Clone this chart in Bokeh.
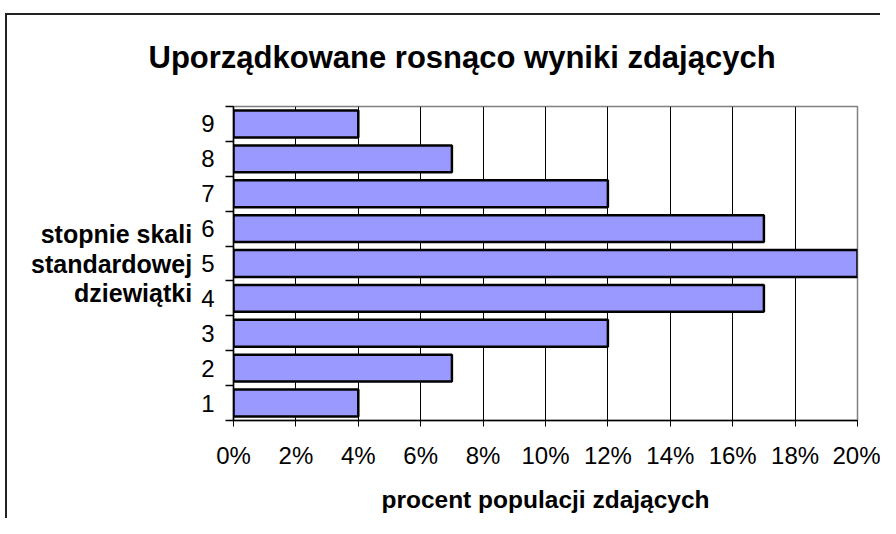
from bokeh.plotting import figure
from bokeh.models import Range1d, FixedTicker, NumeralTickFormatter, ColumnDataSource
from bokeh.embed import file_html
from bokeh.resources import INLINE

# ---- data ----
stopnie = [1, 2, 3, 4, 5, 6, 7, 8, 9]
procent = [0.04, 0.07, 0.12, 0.17, 0.20, 0.17, 0.12, 0.07, 0.04]
x_ticks = [0.0, 0.02, 0.04, 0.06, 0.08, 0.10, 0.12, 0.14, 0.16, 0.18, 0.20]
title_text = "Uporządkowane rosnąco wyniki zdających"
x_label = "procent populacji zdających"
y_label = "stopnie skali\nstandardowej\ndziewiątki"

FONT = "Liberation Sans"

p = figure(
    width=880, height=518,
    x_range=Range1d(0, 0.20), y_range=Range1d(0.5, 9.5),
    output_backend="svg", toolbar_location=None,
    min_border_left=233, min_border_right=23,
    min_border_top=106, min_border_bottom=98,
    title=title_text,
    styles={
        "background-image": "linear-gradient(#222,#222), linear-gradient(#222,#222)",
        "background-position": "5px 13px, 5px 13px",
        "background-size": "100% 2px, 2px 100%",
        "background-repeat": "no-repeat",
    },
)
p.background_fill_color = "white"
p.border_fill_color = None
p.outline_line_color = "#808080"
p.outline_line_width = 1.5

p.title.align = "left"
p.title.offset = -85
p.title.standoff = 63
p.title.text_font = FONT
p.title.text_font_size = "31px"
p.title.text_font_style = "bold"
p.title.text_color = "black"

src = ColumnDataSource(dict(y=stopnie, right=procent))
p.hbar(y="y", right="right", left=0, height=0.77, source=src,
       fill_color="#9999FF", line_color="black", line_width=2.5)

# x axis
p.xaxis.ticker = FixedTicker(ticks=x_ticks)
p.xaxis.formatter = NumeralTickFormatter(format="0%")
p.xaxis.major_tick_out = 6
p.xaxis.major_tick_in = 0
p.xaxis.minor_tick_line_color = None
p.xaxis.major_label_text_font = FONT
p.xaxis.major_label_text_font_size = "24px"
p.xaxis.major_label_text_color = "black"
p.xaxis.major_label_standoff = 15
p.xaxis.axis_label = x_label
p.xaxis.axis_label_text_font = FONT
p.xaxis.axis_label_text_font_size = "24.5px"
p.xaxis.axis_label_text_font_style = "bold"
p.xaxis.axis_label_text_color = "black"
p.xaxis.axis_label_standoff = 14
p.xaxis.axis_line_color = "black"
p.xaxis.axis_line_width = 1.5
p.xaxis.major_tick_line_color = "black"

# y axis: labels at centres, ticks between categories
p.yaxis.ticker = FixedTicker(ticks=stopnie, minor_ticks=[s - 0.5 for s in stopnie] + [stopnie[-1] + 0.5])
p.yaxis.major_tick_out = 0
p.yaxis.major_tick_in = 0
p.yaxis.minor_tick_out = 8
p.yaxis.minor_tick_in = 0
p.yaxis.minor_tick_line_color = "black"
p.yaxis.minor_tick_line_width = 1.5
p.yaxis.major_label_text_font = FONT
p.yaxis.major_label_text_font_size = "24px"
p.yaxis.major_label_text_color = "black"
p.yaxis.major_label_standoff = 11
p.yaxis.axis_line_color = "black"
p.yaxis.axis_line_width = 1.5
p.yaxis.axis_label = y_label
p.yaxis.axis_label_orientation = "horizontal"
p.yaxis.axis_label_text_font = FONT
p.yaxis.axis_label_text_font_size = "25px"
p.yaxis.axis_label_text_font_style = "bold"
p.yaxis.axis_label_text_color = "black"
p.yaxis.axis_label_text_line_height = 1.07
p.yaxis.axis_label_text_align = "center"
p.yaxis.axis_label_standoff = 6

p.xgrid.ticker = FixedTicker(ticks=x_ticks)
p.xgrid.grid_line_color = "black"
p.xgrid.grid_line_width = 1
p.ygrid.grid_line_color = None

open("out.html", "w").write(file_html(p, INLINE))
